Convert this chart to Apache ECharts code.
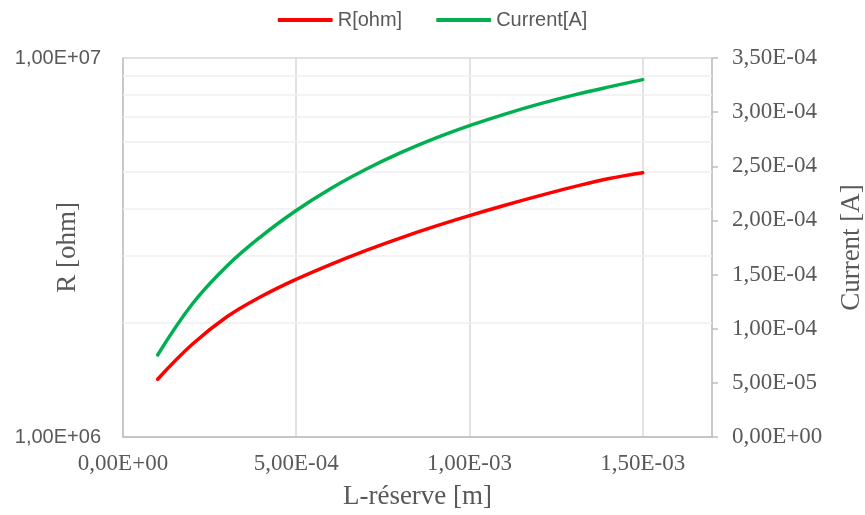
<!DOCTYPE html>
<html>
<head>
<meta charset="utf-8">
<script src="https://cdn.jsdelivr.net/npm/echarts@6/dist/echarts.min.js"></script>
<style>html,body{margin:0;padding:0;background:#fff;}#c{width:865px;height:515px;}</style>
</head>
<body>
<div id="c"></div>
<script>
// L-réserve [m]
const lengths = [1e-4, 2e-4, 3e-4, 4e-4, 5e-4, 6e-4, 7e-4, 8e-4, 9e-4, 1.0e-3, 1.1e-3, 1.2e-3, 1.3e-3, 1.4e-3, 1.5e-3];
// R [ohm]
const resistance = [1.42e6, 1.756e6, 2.076e6, 2.351e6, 2.607e6, 2.855e6, 3.103e6, 3.349e6, 3.594e6, 3.837e6, 4.081e6, 4.326e6, 4.570e6, 4.802e6, 4.982e6];
// Current [A]
const current = [7.57e-5, 1.228e-4, 1.579e-4, 1.856e-4, 2.092e-4, 2.295e-4, 2.470e-4, 2.623e-4, 2.757e-4, 2.875e-4, 2.980e-4, 3.074e-4, 3.157e-4, 3.231e-4, 3.30e-4];
// minor log gridlines on the R axis
const minorGrid = [2e6, 3e6, 4e6, 5e6, 6e6, 7e6, 8e6, 9e6];
const seriesNames = ['R[ohm]', 'Current[A]'];

function sci(v) {
  if (Math.abs(v) < 1e-15) return '0,00E+00';
  const s = v.toExponential(2);
  const parts = s.split('e');
  const e = parseInt(parts[1], 10);
  const sign = e < 0 ? '-' : '+';
  const n = Math.abs(e);
  return parts[0].replace('.', ',') + 'E' + sign + (n < 10 ? '0' : '') + n;
}

const chart = echarts.init(document.getElementById('c'), null, {renderer: 'canvas'});
const serif = 'Liberation Serif';
const sans = 'Liberation Sans';
const grey = '#595959';

chart.setOption({
  animation: false,
  backgroundColor: '#ffffff',
  legend: {
    top: 5,
    left: 'center',
    itemWidth: 55,
    itemHeight: 4,
    itemGap: 34,
    icon: 'roundRect',
    textStyle: {fontFamily: sans, fontSize: 20, color: grey},
    data: seriesNames
  },
  grid: {left: 123, right: 153, top: 58, bottom: 78, containLabel: false, outerBoundsMode: 'none'},
  xAxis: {
    type: 'value',
    min: 0,
    max: 1.7e-3,
    interval: 5e-4,
    name: 'L-réserve [m]',
    nameLocation: 'middle',
    nameGap: 46,
    nameMoveOverlap: false,
    nameTextStyle: {fontFamily: serif, fontSize: 27, color: grey},
    axisLine: {show: true, onZero: false, lineStyle: {color: '#BFBFBF', width: 1.5}},
    axisTick: {show: false},
    axisLabel: {
      margin: 15,
      showMaxLabel: false,
      fontFamily: serif, fontSize: 23, color: grey,
      formatter: function (v) {
        const k = v / 5e-4;
        if (Math.abs(k - Math.round(k)) > 1e-6) return '';
        return sci(v);
      }
    },
    splitLine: {show: true, lineStyle: {color: '#D9D9D9', width: 1.5}}
  },
  yAxis: [
    {
      type: 'log',
      logBase: 10,
      min: 1e6,
      max: 1e7,
      name: 'R [ohm]',
      nameLocation: 'middle',
      nameRotate: 90,
      nameGap: 42,
      nameMoveOverlap: false,
      nameTextStyle: {fontFamily: serif, fontSize: 27, color: grey},
      axisLine: {show: true, lineStyle: {color: '#BFBFBF', width: 1.5}},
      axisTick: {show: false},
      axisLabel: {margin: 22, fontFamily: sans, fontSize: 20, color: grey, formatter: sci},
      splitLine: {show: true, lineStyle: {color: '#D9D9D9', width: 1.5}}
    },
    {
      type: 'value',
      position: 'right',
      min: 0,
      max: 3.5e-4,
      interval: 5e-5,
      name: 'Current [A]',
      nameLocation: 'middle',
      nameRotate: 90,
      nameGap: 126,
      nameMoveOverlap: false,
      nameTextStyle: {fontFamily: serif, fontSize: 27, color: grey},
      axisLine: {show: true, lineStyle: {color: '#BFBFBF', width: 1.5}},
      axisTick: {show: true, inside: false, length: 6, lineStyle: {color: '#BFBFBF', width: 1.5}},
      axisLabel: {margin: 20, fontFamily: serif, fontSize: 23, color: grey, formatter: sci},
      splitLine: {show: false}
    }
  ],
  series: [
    {
      name: seriesNames[0],
      type: 'line',
      yAxisIndex: 0,
      data: lengths.map((x, i) => [x, resistance[i]]),
      smooth: 0.4,
      symbol: 'none',
      z: 3,
      lineStyle: {color: '#FF0000', width: 3.5, cap: 'round'},
      itemStyle: {color: '#FF0000'},
      markLine: {
        silent: true,
        z: 1,
        symbol: ['none', 'none'],
        label: {show: false},
        lineStyle: {color: '#EFEFEF', width: 1.5, type: 'solid'},
        data: minorGrid.map(v => ({yAxis: v}))
      }
    },
    {
      name: seriesNames[1],
      type: 'line',
      yAxisIndex: 1,
      data: lengths.map((x, i) => [x, current[i]]),
      smooth: 0.4,
      symbol: 'none',
      z: 3,
      lineStyle: {color: '#00B050', width: 3.5, cap: 'round'},
      itemStyle: {color: '#00B050'}
    }
  ]
});
</script>
</body>
</html>
